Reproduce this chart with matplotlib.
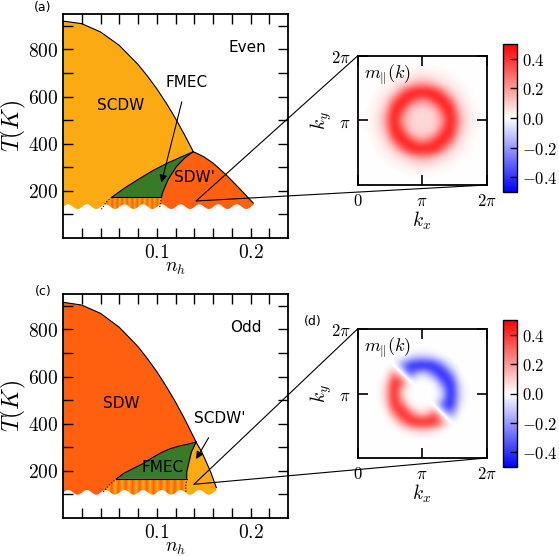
import numpy as np
import matplotlib
matplotlib.use('Agg')
import matplotlib.pyplot as plt
from matplotlib.patches import Polygon, ConnectionPatch
from matplotlib.colors import LinearSegmentedColormap

plt.rcParams['mathtext.fontset'] = 'cm'
plt.rcParams['font.family'] = ['DejaVu Sans']

yellow = '#FBAA14'
orange = '#FF6010'
green = '#387A28'

# ---- panel (a): even ----
a_dome_x = [0, 0.02, 0.04, 0.06, 0.08, 0.09, 0.10, 0.11, 0.12, 0.13, 0.139]
a_dome_T = [920, 909, 874, 817, 736, 687, 633, 573, 507, 435, 366]
a_fm_top_x = [0.052, 0.065, 0.08, 0.095, 0.11, 0.125, 0.139]
a_fm_top_T = [173, 210, 248, 284, 315, 342, 366]
a_in_x = [0.139, 0.130, 0.121, 0.112, 0.106, 0.105]      # left edge of SDW'
a_in_T = [366, 340, 303, 247, 190, 173]
a_out_x = [0.139, 0.150, 0.160, 0.174, 0.188, 0.203]     # right edge of SDW'
a_out_T = [366, 345, 318, 268, 211, 148]
a_dot_l_x = [0.041, 0.0465, 0.052]
a_dot_l_T = [122, 154, 173]
a_dot_r_x = [0.105, 0.104, 0.103]
a_dot_r_T = [173, 150, 126]

# ---- panel (c): odd ----
c_dome_x = [0, 0.02, 0.04, 0.06, 0.08, 0.09, 0.10, 0.11, 0.12, 0.13, 0.142]
c_dome_T = [915, 903, 868, 809, 727, 676, 621, 559, 492, 418, 322]
c_fm_top_x = [0.057, 0.065, 0.075, 0.085, 0.095, 0.105, 0.115, 0.125, 0.135, 0.142]
c_fm_top_T = [166, 190, 210, 230, 255, 278, 295, 306, 315, 322]
c_in_x = [0.142, 0.137, 0.134, 0.132, 0.132]
c_in_T = [322, 280, 230, 195, 166]
c_out_x = [0.142, 0.148, 0.153, 0.158, 0.1635]
c_out_T = [322, 280, 236, 190, 129]
c_dot_l_x = [0.043, 0.050, 0.057]
c_dot_l_T = [111, 142, 166]
c_dot_r_x = [0.132, 0.131, 0.131]
c_dot_r_T = [166, 140, 108]

# m_par(k) on a 16x16 k-grid (x100). even case: one quarter, mirrored
ring_q = np.array([
    [8, 8, 22, 50, 20, 5, 2, 0],
    [8, 11, 40, 48, 12, 4, 1, 0],
    [22, 40, 50, 30, 6, 3, 0, 0],
    [50, 48, 30, 8, 4, 2, 0, 0],
    [20, 12, 6, 4, 2, 0, 0, 0],
    [5, 4, 3, 2, 0, 0, 0, 0],
    [2, 1, 0, 0, 0, 0, 0, 0],
    [0, 0, 0, 0, 0, 0, 0, 0]]) / 100.
m_even = np.block([[ring_q[::-1, ::-1], ring_q[::-1, :]],
                   [ring_q[:, ::-1], ring_q]])

m_odd = np.array([
    [0, 0, 0, 0, 0, 0, 0, 0, 0, 0, 0, 0, 0, 0, 0, 0],
    [0, 0, 0, 0, 0, 0, 0, 0, 0, 0, 0, 0, 0, 0, 0, 0],
    [0, 0, 0, 0, 0, 0, 0, 0, 0, 0, 0, 0, 0, 0, 0, 0],
    [0, 0, 0, 0, 0, 0, 5, 10, 10, 5, 0, 0, 0, 0, 0, 0],
    [0, 0, 0, 0, 2, 24, 46, 50, 50, 46, 24, 0, 0, 0, 0, 0],
    [0, 0, 0, 0, 24, 50, 34, 8, 8, 34, 0, -24, 0, 0, 0, 0],
    [0, 0, 0, 5, 46, 34, 0, 0, 0, 0, -34, -46, -5, 0, 0, 0],
    [0, 0, 0, 10, 50, 8, 0, 0, 0, 0, -8, -50, -10, 0, 0, 0],
    [0, 0, 0, 10, 50, 8, 0, 0, 0, 0, -8, -50, -10, 0, 0, 0],
    [0, 0, 0, 5, 46, 34, 0, 0, 0, 0, -34, -46, -5, 0, 0, 0],
    [0, 0, 0, 0, 24, 0, -34, -8, -8, -34, -50, -24, 0, 0, 0, 0],
    [0, 0, 0, 0, 0, -24, -46, -50, -50, -46, -24, -2, 0, 0, 0, 0],
    [0, 0, 0, 0, 0, 0, -5, -10, -10, -5, 0, 0, 0, 0, 0, 0],
    [0, 0, 0, 0, 0, 0, 0, 0, 0, 0, 0, 0, 0, 0, 0, 0],
    [0, 0, 0, 0, 0, 0, 0, 0, 0, 0, 0, 0, 0, 0, 0, 0],
    [0, 0, 0, 0, 0, 0, 0, 0, 0, 0, 0, 0, 0, 0, 0, 0]]) / 100.

stripe_cmap = LinearSegmentedColormap.from_list('st', [orange, yellow])


def phase_panel(ax, dome_x, dome_T, fm_x, fm_T, in_x, in_T, out_x, out_T,
                dl_x, dl_T, dr_x, dr_T, big_col, small_col, wave_base):
    # big dome
    ax.add_patch(Polygon(list(zip(dome_x, dome_T)) + [(dome_x[-1], 0), (0, 0)],
                         closed=True, fc=big_col, ec='none', zorder=1))
    # small phase on the right
    pts = list(zip(out_x, out_T)) + [(out_x[-1], 0), (dr_x[-1], 0)]
    pts += list(zip(dr_x[::-1], dr_T[::-1])) + list(zip(in_x[::-1], in_T[::-1]))
    ax.add_patch(Polygon(pts, closed=True, fc=small_col, ec='none', zorder=2))
    # FMEC
    pts = list(zip(fm_x, fm_T)) + list(zip(in_x, in_T))
    ax.add_patch(Polygon(pts, closed=True, fc=green, ec='none', zorder=3))
    # striped coexistence region
    pts = [(dl_x[0], 0)] + list(zip(dl_x, dl_T)) + list(zip(dr_x, dr_T)) + [(dr_x[-1], 0)]
    clip = Polygon(pts, closed=True, fc='none', ec='none', transform=ax.transData)
    ax.add_patch(clip)
    stripes = np.tile([0.0, 1.0], 12)[None, :]
    im = ax.imshow(stripes, cmap=stripe_cmap, aspect='auto', interpolation='bilinear',
                   extent=[dl_x[0], dr_x[0], 0, fm_T[0]], zorder=3)
    im.set_clip_path(clip)
    # wavy cut at the bottom
    xw = np.linspace(-0.01, 0.25, 600)
    ax.fill_between(xw, -10, wave_base + 10 + 10 * np.sin(2 * np.pi * xw / 0.02),
                    color='white', lw=0, zorder=4)
    # boundaries
    kw = dict(color='k', lw=0.8, zorder=5)
    ax.plot(dome_x, dome_T, **kw)
    ax.plot(fm_x, fm_T, **kw)
    ax.plot(in_x, in_T, **kw)
    ax.plot(out_x, out_T, **kw)
    ax.plot([fm_x[0], in_x[-1]], [fm_T[0], in_T[-1]], **kw)
    ax.plot(dl_x, dl_T, color='k', lw=0.8, ls=':', zorder=5)
    ax.plot(dr_x, dr_T, color='k', lw=0.8, ls=':', zorder=5)

    ax.set_xlim(0, 0.24)
    ax.set_ylim(0, 950)
    ax.set_xticks([0.1, 0.2])
    ax.set_xticklabels(['$0.1$', '$0.2$'])
    ax.set_xticks(np.arange(0.02, 0.24, 0.02), minor=True)
    ax.set_yticks([200, 400, 600, 800])
    ax.set_yticklabels(['$200$', '$400$', '$600$', '$800$'])
    ax.set_yticks([100, 300, 500, 700, 900], minor=True)
    ax.tick_params(which='both', direction='in', top=True, right=True,
                   length=7, width=1, labelsize=14)
    ax.xaxis.set_zorder(6)
    ax.yaxis.set_zorder(6)
    for s in ax.spines.values():
        s.set_linewidth(1.3)
        s.set_zorder(6)
    ax.set_xlabel('$n_h$', fontsize=14, labelpad=-3)
    ax.set_ylabel('$T(K)$', fontsize=17, labelpad=0)


def k_inset(fig, rect, crect, m):
    ax = fig.add_axes(rect)
    im = ax.imshow(m, origin='lower', extent=[0, 2 * np.pi, 0, 2 * np.pi], cmap='bwr',
                   vmin=-0.5, vmax=0.5, interpolation='bicubic')
    ax.set_xticks([0, np.pi, 2 * np.pi])
    ax.set_xticklabels(['$0$', r'$\pi$', r'$2\pi$'])
    ax.set_yticks([np.pi, 2 * np.pi])
    ax.set_yticklabels([r'$\pi$', r'$2\pi$'])
    ax.tick_params(direction='in', top=True, right=True, length=7, width=1.2,
                   labelsize=12, pad=5)
    for s in ax.spines.values():
        s.set_linewidth(1.3)
    ax.set_xlabel('$k_x$', fontsize=14, labelpad=0)
    ax.set_ylabel('$k_y$', fontsize=14, labelpad=-2)
    ax.text(0.05, 0.95, r'$m_{\Vert}(k)$', transform=ax.transAxes,
            fontsize=13, va='top', ha='left')
    cax = fig.add_axes(crect)
    cb = fig.colorbar(im, cax=cax, ticks=[-0.4, -0.2, 0, 0.2, 0.4])
    cb.ax.set_yticklabels(['$-0.4$', '$-0.2$', '$0.0$', '$0.2$', '$0.4$'])
    cb.ax.tick_params(direction='in', length=5, width=1, labelsize=12)
    cb.outline.set_linewidth(1)
    return ax


fig = plt.figure(figsize=(5.59, 5.56), dpi=100)
W, H = 559., 556.

ax_a = fig.add_axes([63 / W, 1 - 238 / H, 225 / W, 224 / H])
phase_panel(ax_a, a_dome_x, a_dome_T, a_fm_top_x, a_fm_top_T, a_in_x, a_in_T,
            a_out_x, a_out_T, a_dot_l_x, a_dot_l_T, a_dot_r_x, a_dot_r_T,
            yellow, orange, 125)
ax_a.text(0.062, 562, 'SCDW', fontsize=11, ha='center', va='center', zorder=7)
ax_a.text(0.1397, 257, "SDW'", fontsize=11, ha='center', va='center', zorder=7)
ax_a.text(0.197, 810, 'Even', fontsize=11, ha='center', va='center', zorder=7)
ax_a.annotate('FMEC', xy=(0.105, 235), xytext=(0.132, 661), fontsize=11,
              ha='center', va='center', zorder=7,
              arrowprops=dict(arrowstyle='-|>', color='k', lw=0.8, shrinkA=7, shrinkB=0))

ax_c = fig.add_axes([63 / W, 1 - 518 / H, 225 / W, 224 / H])
phase_panel(ax_c, c_dome_x, c_dome_T, c_fm_top_x, c_fm_top_T, c_in_x, c_in_T,
            c_out_x, c_out_T, c_dot_l_x, c_dot_l_T, c_dot_r_x, c_dot_r_T,
            orange, yellow, 101)
ax_c.text(0.062, 484, 'SDW', fontsize=11, ha='center', va='center', zorder=7)
ax_c.text(0.1067, 214, 'FMEC', fontsize=11, ha='center', va='center', zorder=7)
ax_c.text(0.195, 806, 'Odd', fontsize=11, ha='center', va='center', zorder=7)
ax_c.annotate("SCDW'", xy=(0.142, 250), xytext=(0.167, 420), fontsize=11,
              ha='center', va='center', zorder=7,
              arrowprops=dict(arrowstyle='-|>', color='k', lw=0.8, shrinkA=7, shrinkB=0))

ins_a = k_inset(fig, [357 / W, 1 - 185 / H, 130 / W, 129 / H],
                [503 / W, 1 - 192 / H, 14 / W, 148 / H], m_even)
ins_c = k_inset(fig, [357 / W, 1 - 458 / H, 130 / W, 129 / H],
                [503 / W, 1 - 467 / H, 14 / W, 147 / H], m_odd)

for ax, ins, pt in [(ax_a, ins_a, (0.142, 157)), (ax_c, ins_c, (0.1397, 143))]:
    for corner in [(0, 1), (1, 0)]:
        con = ConnectionPatch(xyA=pt, coordsA=ax.transData, xyB=corner,
                              coordsB=ins.transAxes, color='k', lw=0.8)
        fig.add_artist(con)

fig.text(43 / W, 1 - 7 / H, '(a)', fontsize=9, ha='center', va='center')
fig.text(43 / W, 1 - 292 / H, '(c)', fontsize=9, ha='center', va='center')
fig.text(313 / W, 1 - 321 / H, '(d)', fontsize=9, ha='center', va='center')

fig.savefig('out.png', dpi=100)
